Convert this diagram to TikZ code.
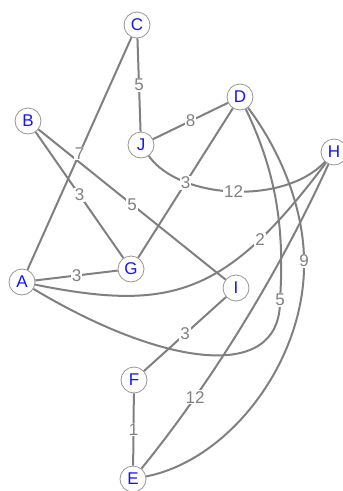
\documentclass[tikz,border=0pt]{standalone}
\usepackage{fontspec}
\setmainfont{Liberation Sans}
\definecolor{edgegray}{RGB}{128,128,128}
\definecolor{ringgray}{RGB}{150,150,150}
\definecolor{vtxblue}{RGB}{20,20,255}
\begin{document}
\begin{tikzpicture}[x=1pt,y=-1pt,
  vtx/.style={circle,draw=ringgray,line width=0.8pt,fill=white,minimum size=26pt,inner sep=0pt,text=vtxblue,font=\fontsize{17}{17}\selectfont},
  edge/.style={draw=edgegray,line width=2pt},
  lbl/.style={fill=white,text=edgegray,inner sep=1pt,font=\fontsize{17}{17}\selectfont}]
\useasboundingbox (0,0) rectangle (343,491);
\node[vtx] (C) at (137,25) {C};
\node[vtx] (B) at (28,121) {B};
\node[vtx] (D) at (240,97) {D};
\node[vtx] (J) at (141,145) {J};
\node[vtx] (H) at (334,152) {H};
\node[vtx] (A) at (22,282) {A};
\node[vtx] (G) at (131,269) {G};
\node[vtx] (I) at (236,288) {I};
\node[vtx] (F) at (134,380) {F};
\node[vtx] (E) at (133,479) {E};
% straight edges
\draw[edge] (C) -- node[lbl]{5} (J);
\draw[edge] (J) -- node[lbl]{8} (D);
\draw[edge] (B) -- node[lbl]{3} (G);
\draw[edge] (B) -- node[lbl]{5} (I);
\draw[edge] (C) -- node[lbl]{7} (A);
\draw[edge] (A) -- node[lbl]{3} (G);
\draw[edge] (I) -- node[lbl]{3} (F);
\draw[edge] (F) -- node[lbl]{1} (E);
% curved edges
\draw[edge] (J) .. controls (180,200) and (285,205) .. (H) node[lbl,pos=0.5]{12};
\draw[edge] (D) -- node[lbl]{3} (G);
\draw[edge] (A) .. controls (171,312) and (226,296) .. (H) node[lbl,pos=0.76]{2};
\draw[edge] (H) .. controls (281,268) and (215,378) .. (E) node[lbl,pos=0.75]{12};
\draw[edge] (D) .. controls (275,170) and (285,225) .. (280,300) node[lbl]{5}
  .. controls (281,385) and (160,365) .. (A);
\draw[edge] (D) .. controls (285,157) and (304,215) .. (304,261) node[lbl]{9}
  .. controls (306,360) and (230,460) .. (E);
\end{tikzpicture}
\end{document}
